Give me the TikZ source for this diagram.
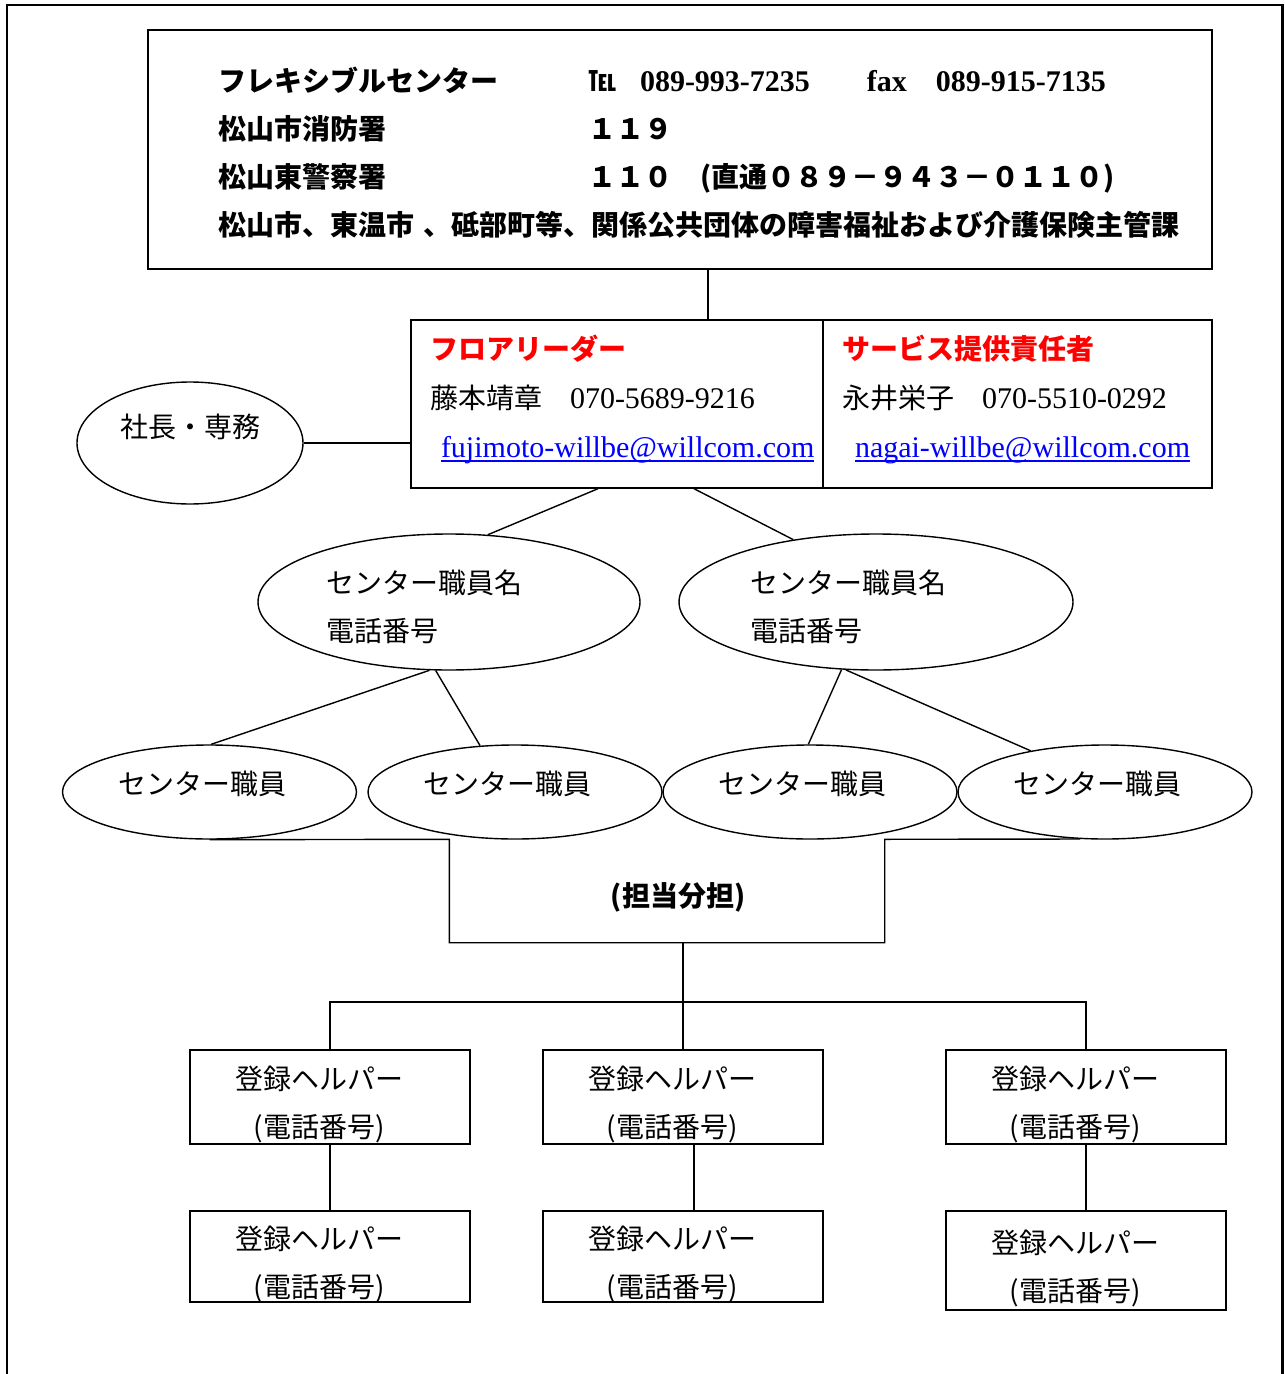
\documentclass[tikz,border=0pt]{standalone}
\usepackage{fontspec}
\setmainfont{Liberation Serif}
\newfontfamily\jp{Noto Sans CJK JP}
\newcommand\jpsize{\fontsize{14pt}{24pt}\selectfont}
\newcommand\lat{\rmfamily\fontsize{15pt}{24.5pt}\selectfont}
\newcommand\helpertext{\rule{0pt}{16.5pt}登録ヘルパー\hspace*{11pt}\\\smash{(電話番号)}\hspace*{11pt}}
\newcommand\mailline[1]{\setbox0\hbox{#1}\rlap{\rule[-2.4pt]{\wd0}{0.8pt}}\box0}
\usetikzlibrary{shapes.geometric}
\tikzset{
  topbox/.style={draw, minimum width=532pt, minimum height=119.5pt, inner sep=0pt, align=left, text width=462pt, font=\jp\bfseries\jpsize},
  chiefbox/.style={draw, minimum height=84pt, inner sep=0pt, align=left, font=\jp\fontsize{14pt}{24.5pt}\selectfont},
  bossoval/.style={ellipse, draw, minimum width=113pt, minimum height=61pt, inner sep=0pt, text height=12pt, text depth=18pt, font=\jp\jpsize},
  staffoval/.style={ellipse, draw, minimum height=68pt, inner sep=0pt, align=left, font=\jp\jpsize},
  memberoval/.style={ellipse, draw, minimum width=147pt, minimum height=47pt, inner sep=0pt, align=left, text width=91.5pt, text height=12pt, text depth=9.4pt, font=\jp\jpsize},
  sharebox/.style={minimum width=217pt, minimum height=51pt, inner sep=0pt, font=\jp\bfseries\jpsize},
  helperbox/.style={draw, minimum width=140pt, inner sep=0pt, align=center, font=\jp\jpsize}
}
\begin{document}
\begin{tikzpicture}[x=0.5pt, y=-0.5pt, line width=0.7pt]
\useasboundingbox (0,0) rectangle (1284,1374);
\draw[line width=1.2pt] (7,1380) -- (7,5) -- (1282.5,5) -- (1282.5,1380);

\node[topbox] (info) at (680,149.5) {%
  \rule{0pt}{15.5pt}\makebox[185pt][l]{フレキシブルセンター}℡\hspace{12pt}{\lat\bfseries 089-993-7235\hspace{28.5pt}fax\hspace{14.5pt}089-915-7135}\\
  \makebox[185pt][l]{松山市消防署}１１９\\
  \makebox[185pt][l]{松山東警察署}１１０　(直通０８９－９４３－０１１０)\\
  \makebox[462pt][l]{松山市、東温市 、砥部町等、関係公共団体の障害福祉および介護保険主管課}};

\node[chiefbox, minimum width=206pt, text width=187pt] (lead) at (617,404) {%
  {\color{red}\bfseries フロアリーダー}\\
  藤本靖章　{\lat 070-5689-9216}\\
  \hspace*{5.5pt}{\lat\color{blue}\mailline{fujimoto-willbe@willcom.com}}\rule[-8pt]{0pt}{8pt}};
\node[chiefbox, minimum width=194.5pt, text width=175.5pt] (serv) at (1017.5,404) {%
  {\color{red}\bfseries サービス提供責任者}\\
  永井栄子　{\lat 070-5510-0292}\\
  \hspace*{6.5pt}{\lat\color{blue}\mailline{nagai-willbe@willcom.com}}\rule[-8pt]{0pt}{8pt}};

\node[bossoval] (boss) at (190,443) {社長・専務};

\node[staffoval, minimum width=191pt, text width=123pt] (staffL) at (449,602) {\rule{0pt}{16.5pt}センター職員名\\電話番号};
\node[staffoval, minimum width=197pt, text width=126pt] (staffR) at (876,602) {\rule{0pt}{16.5pt}センター職員名\\電話番号};

\node[memberoval] (e1) at (209.5,792) {センター職員};
\node[memberoval] (e2) at (515,792) {センター職員};
\node[memberoval] (e3) at (810,792) {センター職員};
\node[memberoval] (e4) at (1105,792) {センター職員};

\node[sharebox] (share) at (667,891) {\hspace*{11pt}\rule{0pt}{18.5pt}(担当分担)};

\node[helperbox, minimum height=47pt] (h1) at (330,1097) {\helpertext};
\node[helperbox, minimum height=47pt] (h2) at (683,1097) {\helpertext};
\node[helperbox, minimum height=47pt] (h3) at (1086,1097) {\helpertext};
\node[helperbox, minimum height=45.5pt] (h4) at (330,1256.5) {\helpertext};
\node[helperbox, minimum height=45.5pt] (h5) at (683,1256.5) {\helpertext};
\node[helperbox, minimum height=49.5pt] (h6) at (1086,1260.5) {\helpertext};

\draw ([xshift=14pt]info.south) -- ([xshift=45.5pt]lead.north);
\draw (boss.east) -- (boss.east -| lead.west);
\draw ([xshift=-9.5pt]lead.south) -- (staffL.60);
\draw ([xshift=38.5pt]lead.south) -- (staffR.143);
\draw (staffL.254) -- (e1.88);
\draw (staffL.259) -- (e2.127);
\draw (staffR.243) -- (e3.92);
\draw (staffR.246) -- (e4.151);
\draw (e1.south) -- (share.north west) -- (share.south west) -- (share.south east) -- (share.north east) -- (e4.242);
\coordinate (bus) at (680,1002);
\draw (share.south -| h2.north) -- (h2.north);
\draw (h1.north) -- (h1.north |- bus) -- (h3.north |- bus) -- (h3.north);
\draw (h1) -- (h4);
\draw ([xshift=5.5pt]h2.south) -- ([xshift=5.5pt]h5.north);
\draw (h3) -- (h6);
\end{tikzpicture}
\end{document}
